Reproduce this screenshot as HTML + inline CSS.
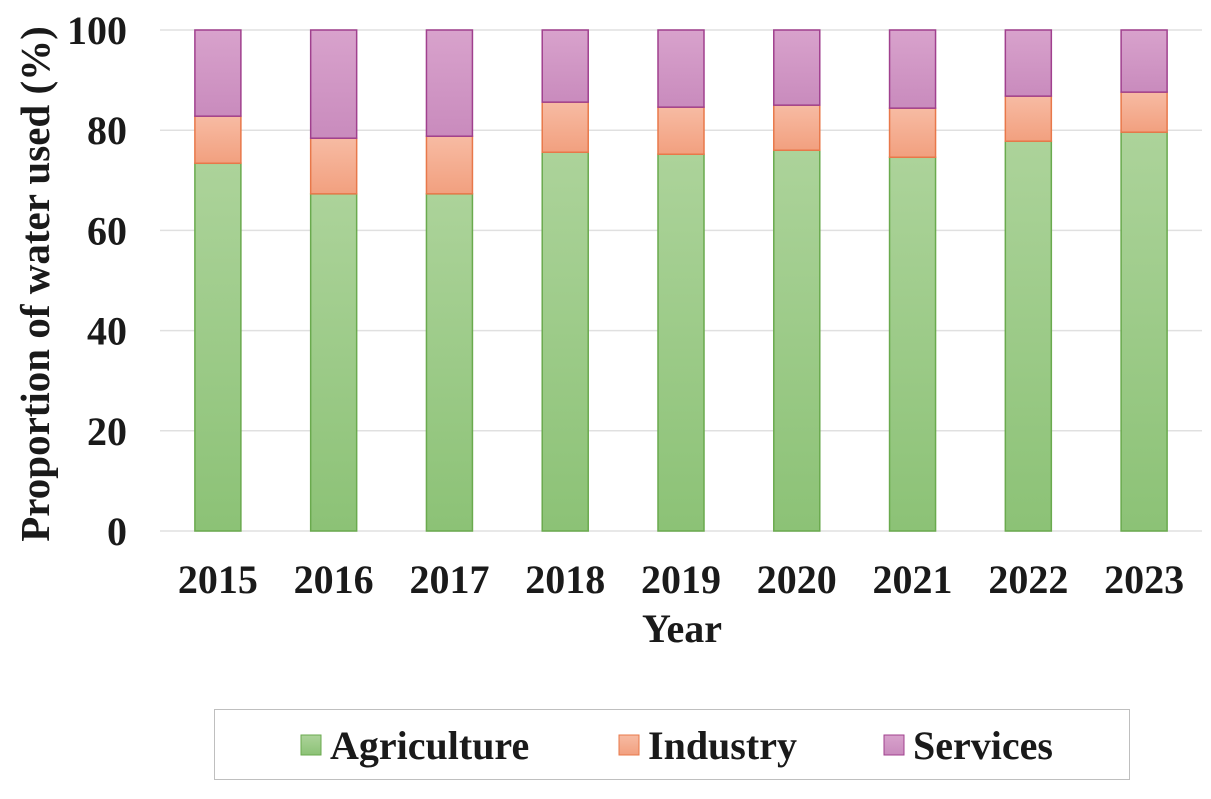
<!DOCTYPE html>
<html><head><meta charset="utf-8"><style>
body{margin:0;background:#fff;}
svg text{font-family:"Liberation Serif",serif;font-weight:bold;fill:#1a1a1a;}
</style></head><body>
<svg id="chart" width="1211" height="794" xmlns="http://www.w3.org/2000/svg">
<defs>
<linearGradient id="gA" x1="0" y1="0" x2="0" y2="1"><stop offset="0" stop-color="#acd39a"/><stop offset="1" stop-color="#8cc276"/></linearGradient>
<linearGradient id="gI" x1="0" y1="0" x2="0" y2="1"><stop offset="0" stop-color="#f7bba3"/><stop offset="1" stop-color="#f2a07f"/></linearGradient>
<linearGradient id="gS" x1="0" y1="0" x2="0" y2="1"><stop offset="0" stop-color="#d8a2cc"/><stop offset="1" stop-color="#c98bbd"/></linearGradient>
</defs>
<g id="grid"></g><g id="bars"></g><g id="axes"></g>
<text transform="translate(49,284) rotate(-90)" text-anchor="middle" font-size="41">Proportion of water used (%)</text>
<text x="682" y="642" text-anchor="middle" font-size="40">Year</text>
<g>
<rect x="214.5" y="709.5" width="915" height="70" fill="#fff" stroke="#bfbfbf"/>
<g><rect x="301" y="735" width="20" height="20" fill="url(#gA)" stroke="#6aaa4e"/><text x="330" y="759" font-size="40">Agriculture</text></g>
<g><rect x="619" y="735" width="20" height="20" fill="url(#gI)" stroke="#e8784a"/><text x="648" y="759" font-size="40">Industry</text></g>
<g><rect x="884" y="735" width="20" height="20" fill="url(#gS)" stroke="#a0408e"/><text x="913" y="759" font-size="40">Services</text></g>
</g>
</svg>
<script>
const years=["2015","2016","2017","2018","2019","2020","2021","2022","2023"];
const agriculture=[73.4,67.3,67.3,75.6,75.2,76.0,74.6,77.8,79.6];
const industry=[9.4,11.1,11.5,10.0,9.4,9.0,9.8,9.0,8.0];
const services=[17.2,21.6,21.2,14.4,15.4,15.0,15.6,13.2,12.4];
const yTicks=[0,20,40,60,80,100];
const NS="http://www.w3.org/2000/svg";
const x0=160,x1=1202,yTop=30,yBot=531;
const y=v=>yBot-(yBot-yTop)*v/100;
const step=(x1-x0)/years.length;
const xc=i=>x0+step*(i+0.5);
const bw=46;
function mk(t,a,p){const e=document.createElementNS(NS,t);for(const k in a)e.setAttribute(k,a[k]);p.appendChild(e);return e;}
const grid=document.getElementById('grid'),bars=document.getElementById('bars'),axes=document.getElementById('axes');
yTicks.forEach(t=>{
 const l=mk('line',{x1:x0,x2:x1,y1:y(t),y2:y(t),stroke:'#e0e0e0','stroke-width':1.5},grid);
 
 
 const tx=mk('text',{x:127,y:y(t)+14,'text-anchor':'end','font-size':40},axes);
 tx.textContent=t;
 
 
});
years.forEach((yr,i)=>{
 let base=0;
 [[agriculture,'url(#gA)','#6aaa4e','agriculture'],[industry,'url(#gI)','#e8784a','industry'],[services,'url(#gS)','#a0408e','services']].forEach(s=>{
  const v=s[0][i];
  const r=mk('rect',{x:xc(i)-bw/2,y:y(base+v),width:bw,height:y(base)-y(base+v),fill:s[1],stroke:s[2],'stroke-width':1.5},bars);
  
  
  base+=v;
 });
 const tx=mk('text',{x:xc(i),y:593,'text-anchor':'middle','font-size':40},axes);
 tx.textContent=yr;
 
 
});
</script>
</body></html>
